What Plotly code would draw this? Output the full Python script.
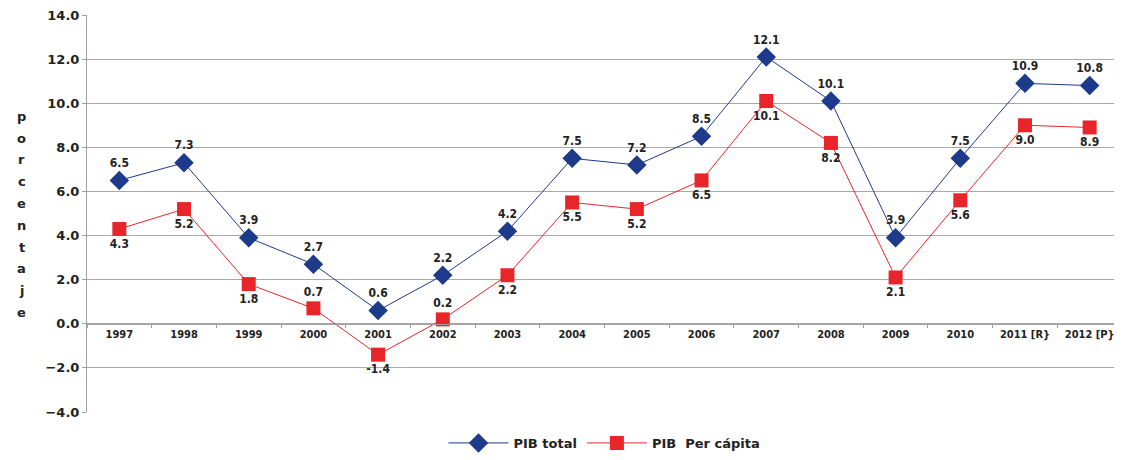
import plotly.graph_objects as go

years = ["1997", "1998", "1999", "2000", "2001", "2002", "2003", "2004",
         "2005", "2006", "2007", "2008", "2009", "2010", "2011 [R}", "2012 [P}"]
pib_total = [6.5, 7.3, 3.9, 2.7, 0.6, 2.2, 4.2, 7.5, 7.2, 8.5, 12.1, 10.1, 3.9, 7.5, 10.9, 10.8]
pib_percapita = [4.3, 5.2, 1.8, 0.7, -1.4, 0.2, 2.2, 5.5, 5.2, 6.5, 10.1, 8.2, 2.1, 5.6, 9.0, 8.9]
percapita_label_pos = ["bottom center"] * 3 + ["top center", "bottom center", "top center"] + ["bottom center"] * 10
y_title = "porcentaje"

navy = "#1E3A8A"
red = "#E8262A"
txt = "#222222"
label_font = dict(family="DejaVu Sans Condensed, DejaVu Sans", size=12, color=txt)

fig = go.Figure()
fig.add_trace(go.Scatter(
    x=years, y=pib_total, name="<b>PIB total</b>", mode="lines+markers+text",
    line=dict(color=navy, width=1),
    marker=dict(symbol="diamond", size=15, color=navy),
    text=[f"{v:.1f}" for v in pib_total], texttemplate="<b>%{text}</b>",
    textposition="top center", textfont=label_font, cliponaxis=False,
))
fig.add_trace(go.Scatter(
    x=years, y=pib_percapita, name="<b>PIB  Per cápita</b>", mode="lines+markers+text",
    line=dict(color=red, width=1),
    marker=dict(symbol="square", size=14, color=red),
    text=[f"{v:.1f}" for v in pib_percapita], texttemplate="<b>%{text}</b>",
    textposition=percapita_label_pos, textfont=label_font, cliponaxis=False,
))

ymin, ymax = -4, 14
fig.update_layout(
    width=1114, height=452,
    margin=dict(l=79, r=0, t=7, b=48, autoexpand=False),
    paper_bgcolor="white", plot_bgcolor="white",
    font=dict(family="DejaVu Sans"),
    showlegend=True,
    legend=dict(orientation="h", x=0.5, xanchor="center", y=-0.078, yanchor="middle",
                font=dict(family="DejaVu Sans", size=13, color=txt),
                itemwidth=60),
    xaxis=dict(
        type="category", anchor="free", position=(0 - ymin) / (ymax - ymin),
        automargin=False, ticklabeloverflow="allow",
        showline=True, linecolor="#A0A0A0", linewidth=1,
        ticks="outside", ticklen=3, tickcolor="#A0A0A0", tickson="boundaries",
        showgrid=False, tickprefix="<b>", ticksuffix="</b>",
        tickfont=dict(family="DejaVu Sans Condensed, DejaVu Sans", size=11, color=txt),
        range=[-0.5, len(years) - 0.5],
    ),
    yaxis=dict(
        range=[ymin, ymax], dtick=2, tickformat=".1f", automargin=False,
        ticklabeloverflow="allow",
        showgrid=True, gridcolor="#A8A8A8", gridwidth=1,
        zeroline=False, showline=True, linecolor="#A0A0A0",
        ticks="outside", ticklen=4, tickcolor="#A0A0A0",
        tickprefix="<b>", ticksuffix="</b>",
        tickfont=dict(family="DejaVu Sans", size=13, color=txt),
    ),
)

for i, ch in enumerate(y_title):
    fig.add_annotation(
        text=f"<b>{ch}</b>", xref="paper", yref="paper",
        x=-0.063, y=0.745 - i * 0.0549, xanchor="center", yanchor="middle",
        showarrow=False, font=dict(family="DejaVu Sans", size=13, color=txt),
    )

fig.write_html("out.html")
